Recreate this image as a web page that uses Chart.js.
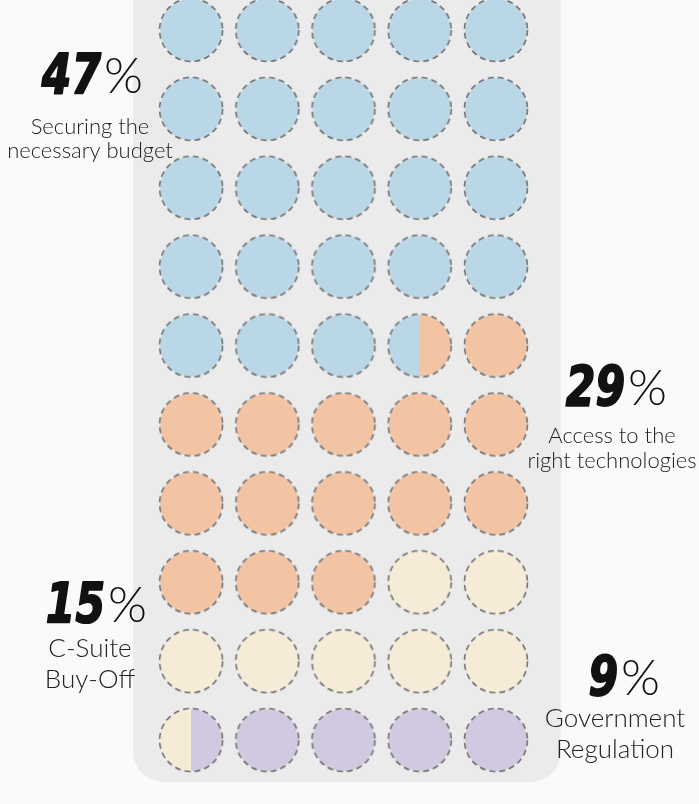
<!DOCTYPE html>
<html lang="en">
<head>
  <meta charset="UTF-8">
  <title>Biggest barriers</title>
  <script src="https://cdn.jsdelivr.net/npm/chart.js"></script>
  <style>
    body { margin: 0; background: #fafaf8; }
    #wrap { width: 699px; height: 804px; }
  </style>
</head>
<body>
  <div id="wrap"><canvas id="waffle"></canvas></div>

  <script>
    // share of respondents, each circle = 2%
    const categories = ['Securing the necessary budget', 'Access to the right technologies', 'C-Suite Buy-Off', 'Government Regulation'];
    const values = [47, 29, 15, 9];
    const labelLines = [['Securing the', 'necessary budget'], ['Access to the', 'right technologies'], ['C-Suite', 'Buy-Off'], ['Government', 'Regulation']];
    const colors = ['#b9d7e6', '#f2c4a4', '#f5ebd6', '#d0c9e0'];
    const perRow = 5;
    const perCircle = 2;

    // one entry per percent, then two percents make a circle
    const halves = [];
    values.forEach((v, i) => { for (let k = 0; k < v; k++) halves.push(i); });
    const cells = [];
    for (let i = 0; i < halves.length / perCircle; i++) {
      cells.push({ x: i % perRow, y: Math.floor(i / perRow), left: halves[i * 2], right: halves[i * 2 + 1] });
    }

    function circleImage(left, right) {
      const c = document.createElement('canvas');
      c.width = 72; c.height = 72;
      const g = c.getContext('2d');
      const r = 31;
      if (left === right) {
        g.fillStyle = colors[left];
        g.beginPath(); g.arc(36, 36, r, 0, Math.PI * 2); g.fill();
      } else {
        g.fillStyle = colors[left];
        g.beginPath(); g.arc(36, 36, r, Math.PI / 2, Math.PI * 1.5); g.closePath(); g.fill();
        g.fillStyle = colors[right];
        g.beginPath(); g.arc(36, 36, r, -Math.PI / 2, Math.PI / 2); g.closePath(); g.fill();
      }
      g.strokeStyle = '#707070';
      g.lineWidth = 1.6;
      g.setLineDash([6, 4]);
      g.beginPath(); g.arc(36, 36, r + 0.5, 0, Math.PI * 2); g.stroke();
      return c;
    }

    const panelPlugin = {
      id: 'panel',
      beforeDraw(chart) {
        const { ctx, scales: { x, y } } = chart;
        ctx.save();
        ctx.fillStyle = '#fafaf8';
        ctx.fillRect(0, 0, chart.width, chart.height);
        const l = x.getPixelForValue(-0.76), r = x.getPixelForValue(4.85);
        const t = y.getPixelForValue(-1), b = y.getPixelForValue(9.53);
        ctx.fillStyle = '#ebebeb';
        ctx.beginPath();
        ctx.roundRect(l, t, r - l, b - t, 30);
        ctx.fill();
        ctx.restore();
      }
    };

    // label anchors: split x between number and %, baseline, label centre, first line baseline, line step, font size
    const labelPos = [
      { split: 101, base: 93, cx: 90, ly: 134, step: 24, size: 22 },
      { split: 625, base: 405, cx: 612, ly: 443, step: 25, size: 22 },
      { split: 105, base: 622, cx: 90, ly: 657, step: 31, size: 26 },
      { split: 618, base: 695, cx: 615, ly: 727, step: 31, size: 26 }
    ];

    const textPlugin = {
      id: 'texts',
      afterDraw(chart) {
        const ctx = chart.ctx;
        ctx.save();
        values.forEach((v, i) => {
          const p = labelPos[i];
          ctx.fillStyle = '#111';
          ctx.textBaseline = 'alphabetic';
          // narrow heavy digits
          ctx.save();
          ctx.translate(p.split, p.base);
          ctx.scale(0.76, 1);
          ctx.font = 'italic bold 56px "DejaVu Sans", sans-serif';
          ctx.textAlign = 'right';
          ctx.lineJoin = 'round';
          ctx.strokeStyle = '#111';
          ctx.lineWidth = 2;
          ctx.strokeText(String(v), 0, 0);
          ctx.fillText(String(v), 0, 0);
          ctx.restore();
          ctx.font = '300 50px Lato, sans-serif';
          ctx.textAlign = 'left';
          ctx.fillText('%', p.split + 3, p.base);
          ctx.fillStyle = '#222';
          ctx.font = '300 ' + p.size + 'px Lato, sans-serif';
          ctx.textAlign = 'center';
          labelLines[i].forEach((line, k) => ctx.fillText(line, p.cx, p.ly + k * p.step));
        });
        ctx.restore();
      }
    };

    new Chart(document.getElementById('waffle'), {
      type: 'scatter',
      data: {
        datasets: [{
          label: 'Respondents',
          data: cells.map(c => ({ x: c.x, y: c.y })),
          pointStyle: cells.map(c => circleImage(c.left, c.right)),
          pointRadius: 32,
          pointHoverRadius: 32,
          clip: false
        }]
      },
      options: {
        responsive: true,
        maintainAspectRatio: false,
        animation: false,
        layout: { autoPadding: false, padding: { left: 153, right: 165, top: 0, bottom: 0 } },
        scales: {
          x: { display: false, min: -0.5, max: 4.5 },
          y: { display: false, reverse: true, min: -0.38, max: 9.81 }
        },
        plugins: { legend: { display: false }, tooltip: { enabled: false } }
      },
      plugins: [panelPlugin, textPlugin]
    });
  </script>
</body>
</html>
